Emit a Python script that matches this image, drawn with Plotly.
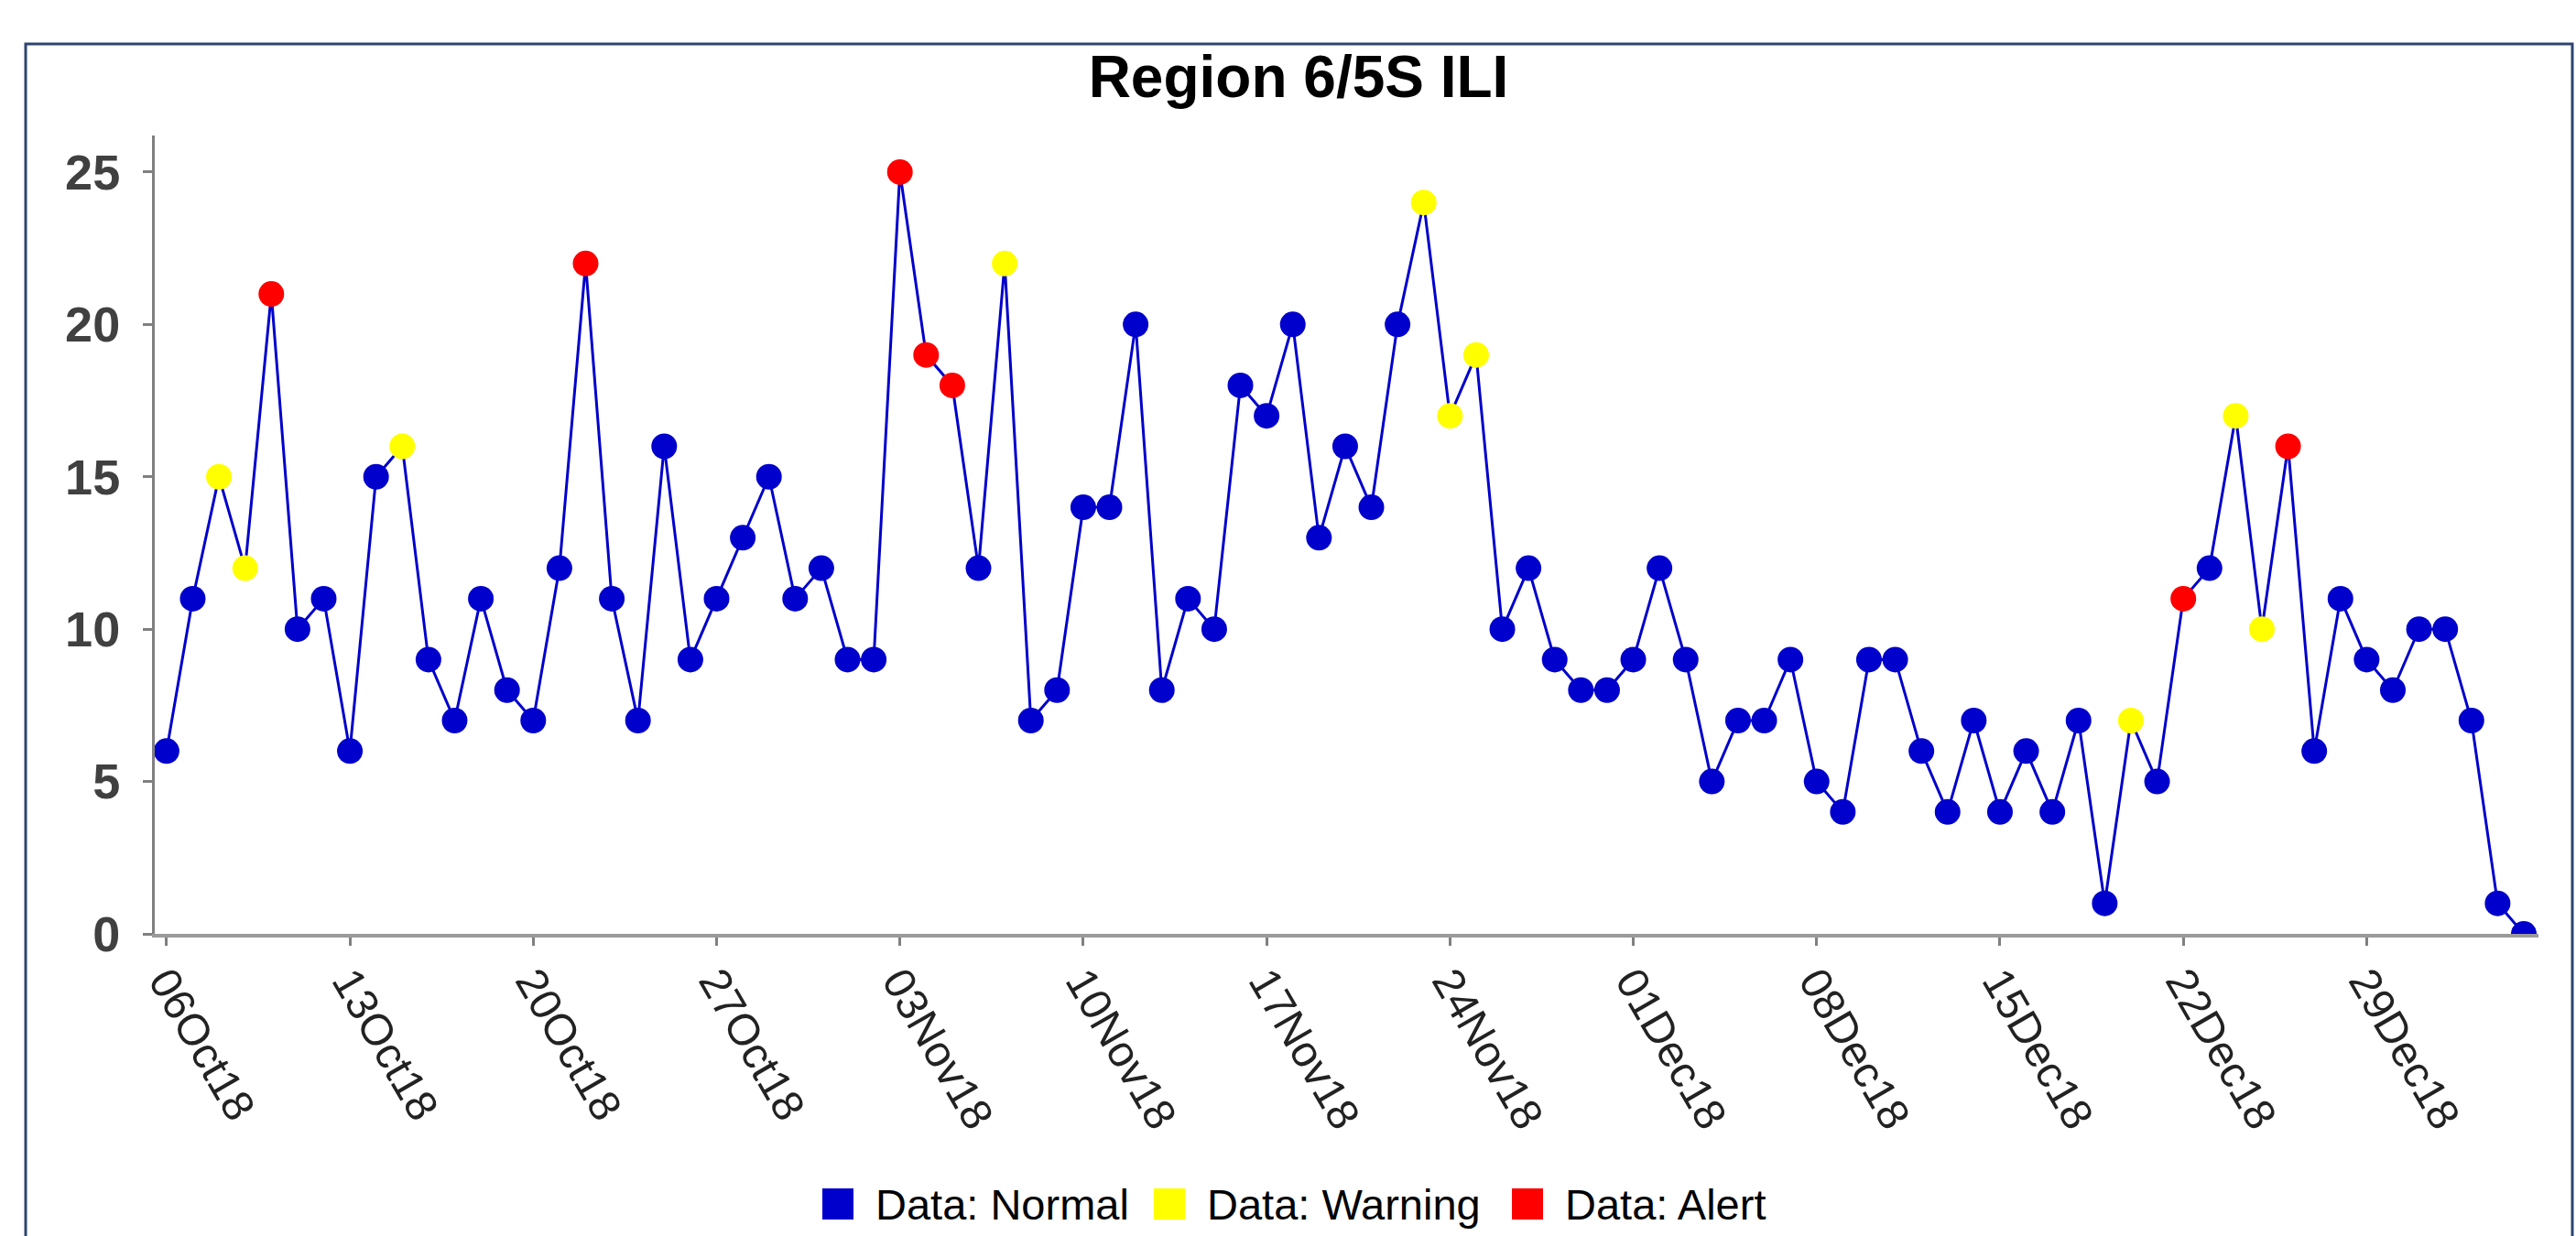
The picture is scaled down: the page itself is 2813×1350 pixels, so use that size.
import pandas as pd
import plotly.graph_objects as go

# ---- data ----
start_date = "2018-10-06"
values = [6, 11, 15, 12, 21, 10, 11, 6, 15, 16,
          9, 7, 11, 8, 7, 12, 22, 11, 7, 16,
          9, 11, 13, 15, 11, 12, 9, 9, 25, 19,
          18, 12, 22, 7, 8, 14, 14, 20, 8, 11,
          10, 18, 17, 20, 13, 16, 14, 20, 24, 17,
          19, 10, 12, 9, 8, 8, 9, 12, 9, 5,
          7, 7, 9, 5, 4, 9, 9, 6, 4, 7,
          4, 6, 4, 7, 1, 7, 5, 11, 12, 17,
          10, 16, 6, 11, 9, 8, 10, 10, 7, 1,
          0]
status = ["N", "N", "W", "W", "A", "N", "N", "N", "N", "W",
          "N", "N", "N", "N", "N", "N", "A", "N", "N", "N",
          "N", "N", "N", "N", "N", "N", "N", "N", "A", "A",
          "A", "N", "W", "N", "N", "N", "N", "N", "N", "N",
          "N", "N", "N", "N", "N", "N", "N", "N", "W", "W",
          "W", "N", "N", "N", "N", "N", "N", "N", "N", "N",
          "N", "N", "N", "N", "N", "N", "N", "N", "N", "N",
          "N", "N", "N", "N", "N", "W", "N", "A", "N", "W",
          "W", "A", "N", "N", "N", "N", "N", "N", "N", "N",
          "N"]
status_keys = ["N", "W", "A"]
status_names = {"N": "Data: Normal", "W": "Data: Warning", "A": "Data: Alert"}
status_colors = {"N": "#0000CC", "W": "#FFFF00", "A": "#FF0000"}

dates = pd.date_range(start_date, periods=len(values), freq="D")

fig = go.Figure()
fig.add_trace(go.Scatter(x=dates, y=values, mode="lines",
                         line=dict(color="#0000CC", width=3),
                         showlegend=False, hoverinfo="skip"))
for key in status_keys:
    xs = [d for d, s in zip(dates, status) if s == key]
    ys = [v for v, s in zip(values, status) if s == key]
    fig.add_trace(go.Scatter(x=xs, y=ys, mode="markers",
                             marker=dict(color=status_colors[key], size=28,
                                         line=dict(width=0)),
                             name=status_names[key], showlegend=False))

L, R, T, B = 169, 41, 148, 330
W, H = 2813, 1350
pw = W - L - R
ph = H - T - B


def px_x(p):
    return (p - L) / pw


def px_y(p):
    return (H - B - p) / ph


# outer frame
fig.add_shape(type="rect", xref="paper", yref="paper",
              x0=px_x(28), x1=px_x(2809), y0=px_y(1400), y1=px_y(48),
              line=dict(color="#2E4470", width=3), fillcolor="rgba(0,0,0,0)",
              layer="below")

# legend (swatch + label) at the bottom
legend_y = 1315
swatch = 34
legend_starts = {"N": 898, "W": 1260, "A": 1651}
for key in status_keys:
    x0 = legend_starts[key]
    fig.add_shape(type="rect", xref="paper", yref="paper",
                  x0=px_x(x0), x1=px_x(x0 + swatch),
                  y0=px_y(legend_y + swatch / 2), y1=px_y(legend_y - swatch / 2),
                  line=dict(width=0), fillcolor=status_colors[key])
    fig.add_annotation(text=status_names[key], xref="paper", yref="paper",
                       x=px_x(x0 + swatch + 22), y=px_y(legend_y),
                       xanchor="left", yanchor="middle", showarrow=False,
                       font=dict(size=47, color="black"))

fig.update_layout(
    width=W, height=H,
    margin=dict(l=L, r=R, t=T, b=B),
    paper_bgcolor="white", plot_bgcolor="white",
    font=dict(family="Arial, Liberation Sans, sans-serif"),
    title=dict(text="<b>Region 6/5S ILI</b>", x=1418 / W, xanchor="center",
               y=1 - 84 / H, yanchor="middle",
               font=dict(size=64, color="black")),
    xaxis=dict(
        type="date",
        range=["2018-10-05 13:12", "2019-01-04 13:26"],
        tick0="2018-10-06", dtick=7 * 86400000,
        tickformat="%d%b%y", tickangle=60,
        tickfont=dict(size=48, color="#222222"),
        showgrid=False, zeroline=False,
        showline=True, linecolor="#9A9A9A", linewidth=4,
        ticks="outside", ticklen=9, tickwidth=3, tickcolor="#808080",
        ticklabelstandoff=-8,
        automargin=False,
    ),
    yaxis=dict(
        range=[0, 26.2],
        tick0=0, dtick=5,
        tickfont=dict(size=54, color="#404040", weight="bold"),
        showgrid=False, zeroline=False,
        showline=True, linecolor="#808080", linewidth=3,
        ticks="outside", ticklen=10, tickwidth=3, tickcolor="#808080",
        ticklabelstandoff=14,
        automargin=False,
    ),
    showlegend=False,
)

fig.write_html("out.html",
               config={"displayModeBar": False},
               post_script="document.body.style.margin='0';"
                           "document.body.style.overflow='hidden';")
